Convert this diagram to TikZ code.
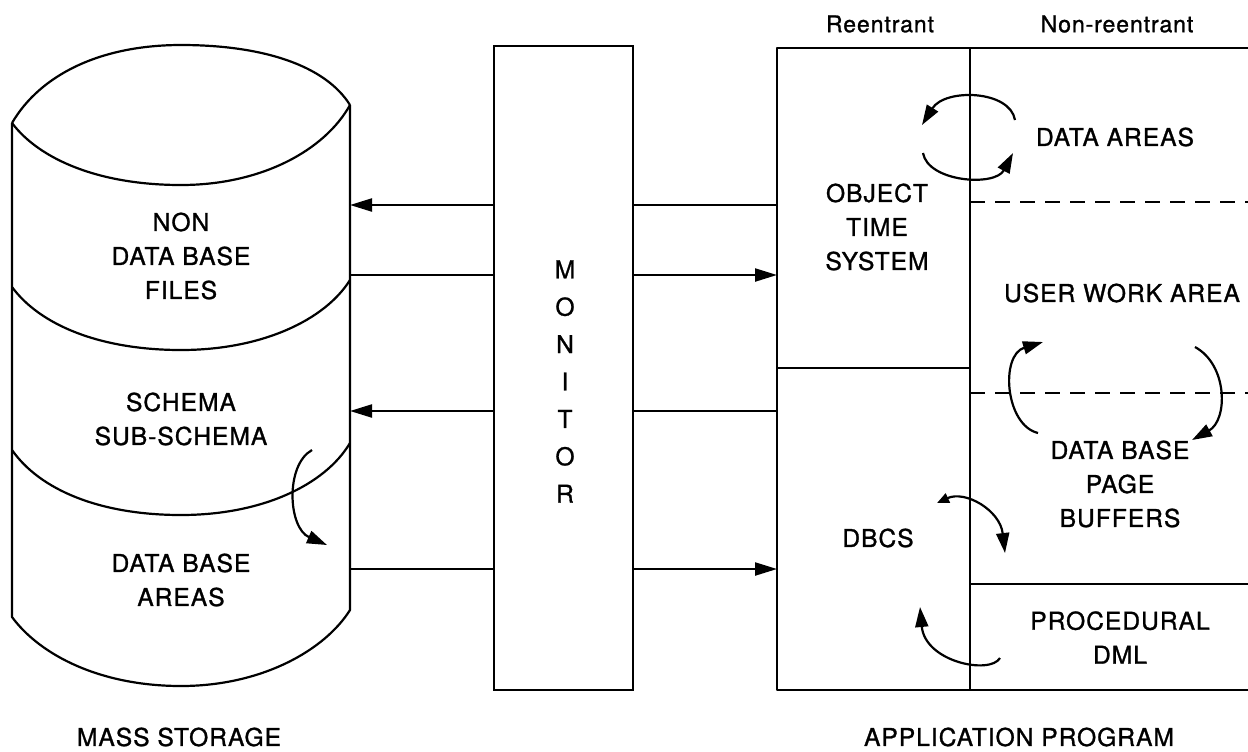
\documentclass[tikz,border=0pt]{standalone}
\usepackage{fontspec}
\setmainfont{TeX Gyre Heros}
\newfontfamily\heavy{TeX Gyre Heros}[FakeBold=1.1, LetterSpace=4]
\usetikzlibrary{arrows.meta}
\tikzset{
  ln/.style={line width=1.1pt, line join=round},
  arr/.style={line width=1.1pt, -{Triangle[length=11pt,width=6.5pt]}},
  carr/.style={line width=1.1pt, -{Triangle[length=10pt,width=6.5pt]}},
  lbl/.style={font=\heavy\fontsize{12.3}{17}\selectfont, align=center, inner sep=0pt},
  hdr/.style={font=\heavy\fontsize{11.5}{14}\selectfont, inner sep=0pt},
  dsh/.style={line width=1.1pt, dash pattern=on 7.5pt off 5pt},
  monbox/.style={draw, line width=1.1pt, inner sep=0pt, minimum width=69.5pt, minimum height=322pt},
}
\begin{document}
\begin{tikzpicture}[x=0.5pt,y=-0.5pt]
\useasboundingbox (0,0) rectangle (1248,751);
\fill[white] (0,0) rectangle (1248,751);

% ---------- Mass storage cylinder ----------
\draw[ln] (12,123) -- (12,617)
  .. controls (40,655) and (100,686) .. (181,686)
  .. controls (262,686) and (325,650) .. (350,610) -- (350,105);
\draw[ln] (12,123) .. controls (40,75) and (100,45) .. (181,45)
  .. controls (262,45) and (325,65) .. (350,105);
\draw[ln] (12,123) .. controls (40,160) and (100,185) .. (181,185)
  .. controls (262,185) and (325,150) .. (350,105);
\draw[ln] (12,287) .. controls (40,325) and (100,350) .. (181,350)
  .. controls (262,350) and (325,320) .. (350,280);
\draw[ln] (12,450) .. controls (40,490) and (100,515) .. (181,515)
  .. controls (262,515) and (325,485) .. (350,443);

\node[lbl] (nondb) at (181,256) {NON\\DATA BASE\\FILES};
\node[lbl] (schema) at (181,419) {SCHEMA\\SUB-SCHEMA};
\node[lbl] (dbareas) at (181,580) {DATA BASE\\AREAS};
\node[lbl] (mass) at (179,737) {MASS STORAGE};

\coordinate (ca1) at (312,450);
\coordinate (ca2) at (327,545);
\draw[carr] (ca1) .. controls (285,465) and (288,528) .. (ca2);

% ---------- Monitor ----------
\node[monbox] (mon) at (563.5,368) {};
\node[font=\heavy\fontsize{12.3}{18.7}\selectfont, align=center, inner sep=0pt] (montxt) at (565,381.5) {M\\O\\N\\I\\T\\O\\R};

% ---------- Application program ----------
\draw[ln] (1248,48) -- (777,48) -- (777,690) -- (1248,690);
\draw[ln] (970,48) -- (970,690);
\draw[ln] (777,368) -- (970,368);
\draw[ln] (970,584) -- (1248,584);
\draw[dsh] (970,202) -- (1248,202);
\draw[dsh] (970,393) -- (1248,393);

\node[hdr] (reent) at (880,24) {Reentrant};
\node[hdr] (nonreent) at (1117,24) {Non-reentrant};
\node[lbl] (dataareas) at (1115,137) {DATA AREAS};
\node[lbl] (ots) at (877,227) {OBJECT\\TIME\\SYSTEM};
\node[lbl] (uwa) at (1122,293) {USER WORK AREA};
\node[lbl] (dbpb) at (1120,484) {DATA BASE\\PAGE\\BUFFERS};
\node[lbl] (dbcs) at (878,538) {DBCS};
\node[lbl] (pdml) at (1120,637.5) {PROCEDURAL\\DML};
\node[lbl] (app) at (1019,737) {APPLICATION PROGRAM};

% ---------- connectors ----------
\coordinate (cy1) at (350,205);
\coordinate (cy2) at (350,275);
\coordinate (cy3) at (350,411);
\coordinate (cy4) at (350,569);
\coordinate (ap1) at (777,205);
\coordinate (ap2) at (777,275);
\coordinate (ap3) at (777,411);
\coordinate (ap4) at (777,569);

\draw[arr] (mon.west |- cy1) -- (cy1);
\draw[ln] (cy2) -- (mon.west |- cy2);
\draw[arr] (mon.west |- cy3) -- (cy3);
\draw[ln] (cy4) -- (mon.west |- cy4);

\draw[ln] (ap1) -- (mon.east |- ap1);
\draw[arr] (mon.east |- ap2) -- (ap2);
\draw[ln] (ap3) -- (mon.east |- ap3);
\draw[arr] (mon.east |- ap4) -- (ap4);

% ---------- curved arrows, application ----------
\coordinate (d1) at (1015,120);
\coordinate (d2) at (922,125);
\coordinate (d3) at (923,153);
\coordinate (d4) at (1013,153);
\draw[carr] (d1) .. controls (1010,90) and (945,88) .. (d2);
\draw[carr] (d3) .. controls (928,182) and (995,187) .. (d4);

\coordinate (u1) at (1038,433);
\coordinate (u2) at (1043,342);
\coordinate (u3) at (1195,347);
\coordinate (u4) at (1192,440);
\draw[carr] (u1) .. controls (1005,425) and (1000,355) .. (u2);
\draw[carr] (u3) .. controls (1228,365) and (1228,420) .. (u4);

\coordinate (b1) at (937,503);
\coordinate (b2) at (1005,553);
\coordinate (b3) at (1000,658);
\coordinate (b4) at (920,607);
\draw[line width=1.1pt, {Triangle[length=6pt,width=5pt]}-{Triangle[length=10pt,width=6.5pt]}]
  (b1) .. controls (965,490) and (1000,510) .. (b2);
\draw[carr] (b3) .. controls (990,675) and (925,662) .. (b4);
\end{tikzpicture}
\end{document}
